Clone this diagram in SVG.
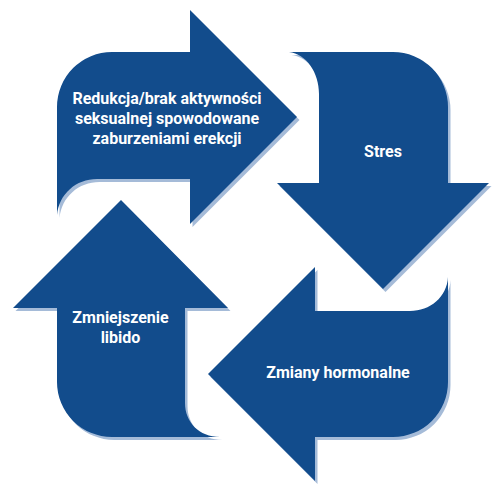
<svg xmlns="http://www.w3.org/2000/svg" width="501" height="491" viewBox="0 0 501 491">
  <defs>
    <style>
      .arrow { fill: #124c8c; }
      .shadow { fill: #a5bbd8; }
      .label { font-family: Roboto, "Liberation Sans", Arial, sans-serif; font-weight: 700; font-size: 16px; fill: #ffffff; text-anchor: middle; }
    </style>
    <path id="p-top" d="M57,215 V107 A55,55 0 0 1 112,52 H190 V10 L297,117 L190,224 V179 H97 C76,179 59,194 57,215 Z"/>
    <path id="p-right" d="M319,183 V94 C319,72 306,54 289,52 H393 A55,55 0 0 1 448,107 V183 H489 L383,289 L277,183 Z"/>
    <path id="p-bottom" d="M315,311 H410 C430,311 447,297 448,277 V382 A55,55 0 0 1 393,437 H315 V481 L208,374 L315,267 Z"/>
    <path id="p-left" d="M57,308 V382 A55,55 0 0 0 112,437 H220 C199,437 185,422 185,403 V308 H228 L121,200 L13,308 Z"/>
  </defs>
  <rect width="501" height="491" fill="#ffffff"/>
  <g id="connectors"></g>
  <g id="node-reduction">
    <use href="#p-top" class="shadow" transform="translate(2.5,3)"/>
    <use href="#p-top" class="arrow"/>
    <text class="label" x="167" y="104">Redukcja/brak aktywności</text>
    <text class="label" x="167" y="124">seksualnej spowodowane</text>
    <text class="label" x="167" y="144">zaburzeniami erekcji</text>
  </g>
  <g id="node-stress">
    <use href="#p-right" class="shadow" transform="translate(2.5,3)"/>
    <use href="#p-right" class="arrow"/>
    <text class="label" x="383" y="157">Stres</text>
  </g>
  <g id="node-hormones">
    <use href="#p-bottom" class="shadow" transform="translate(2.5,3)"/>
    <use href="#p-bottom" class="arrow"/>
    <text class="label" x="338" y="378">Zmiany hormonalne</text>
  </g>
  <g id="node-libido">
    <use href="#p-left" class="shadow" transform="translate(2.5,3)"/>
    <use href="#p-left" class="arrow"/>
    <text class="label" x="120.5" y="323">Zmniejszenie</text>
    <text class="label" x="120.5" y="343">libido</text>
  </g>
</svg>
